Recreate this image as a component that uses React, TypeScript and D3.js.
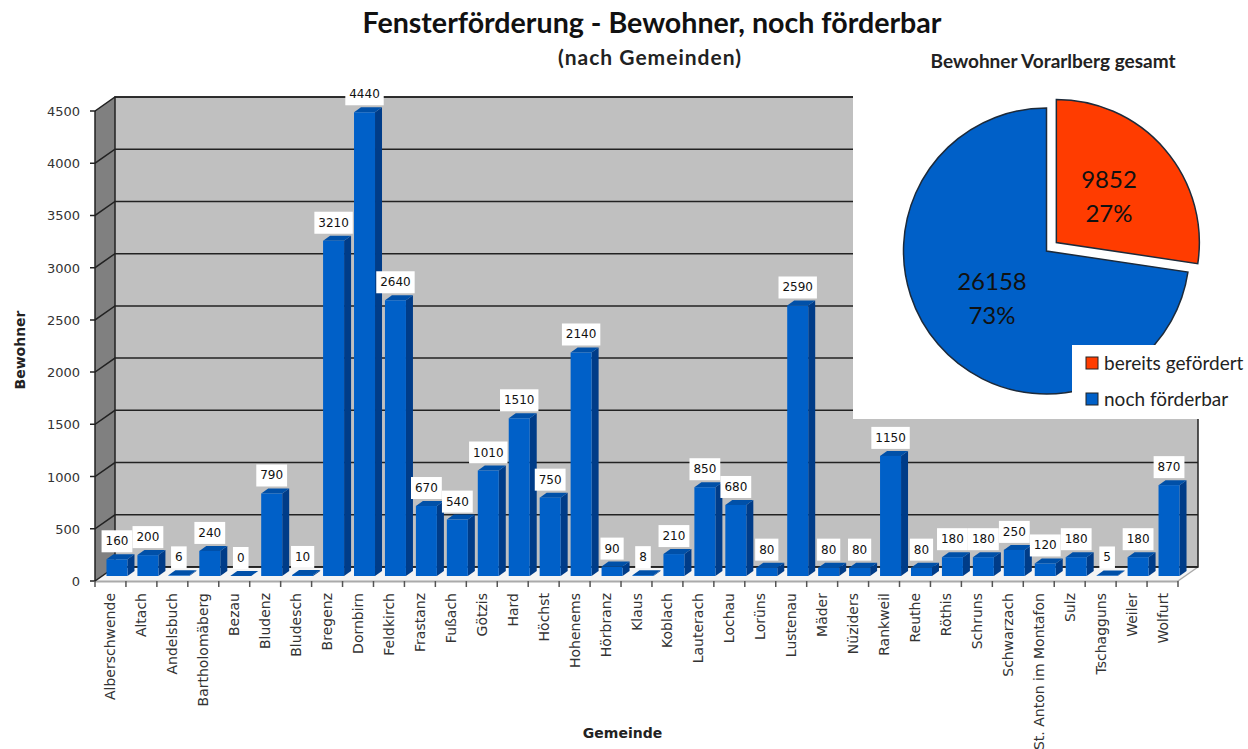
import React from "react";
import * as d3 from "d3";

const gemeinden = [
  "Alberschwende", "Altach", "Andelsbuch", "Bartholomäberg", "Bezau", "Bludenz", "Bludesch",
  "Bregenz", "Dornbirn", "Feldkirch", "Frastanz", "Fußach", "Götzis", "Hard", "Höchst",
  "Hohenems", "Hörbranz", "Klaus", "Koblach", "Lauterach", "Lochau", "Lorüns", "Lustenau",
  "Mäder", "Nüziders", "Rankweil", "Reuthe", "Röthis", "Schruns", "Schwarzach",
  "St. Anton im Montafon", "Sulz", "Tschagguns", "Weiler", "Wolfurt",
];
const bewohner = [
  160, 200, 6, 240, 0, 790, 10, 3210, 4440, 2640, 670, 540, 1010, 1510, 750, 2140, 90, 8, 210,
  850, 680, 80, 2590, 80, 80, 1150, 80, 180, 180, 250, 120, 180, 5, 180, 870,
];
const yTicks = [0, 500, 1000, 1500, 2000, 2500, 3000, 3500, 4000, 4500];

const pieLabels = ["bereits gefördert", "noch förderbar"];
const pieValues = [9852, 26158];
const pieColors = ["#ff3c00", "#0060c8"];

const BODY = "'DejaVu Sans', sans-serif";
const HEAD = "Lato, sans-serif";

export default function App() {
  // front plane of the 3d box
  const x0 = 95;
  const x1 = 1178;
  const depthX = 20;
  const depthY = -14;

  const x = d3.scaleBand<string>().domain(gemeinden).range([x0, x1]);
  const y = d3.scaleLinear().domain([0, 4500]).range([581, 111]);

  const barW = 21;
  const barDx = 7;
  const barDy = -5;

  const pieGen = d3.pie<number>().sort(null);
  const arcGen = d3.arc<d3.PieArcDatum<number>>().innerRadius(0).outerRadius(143);
  const slices = pieGen(pieValues);
  const total = d3.sum(pieValues);
  const pct = d3.format(".0%");
  const pieX = 1046.5;
  const pieY = 251;

  const labelPos = [
    { x: 1109, y: 180 },
    { x: 992, y: 282 },
  ];

  return (
    <svg
      width={1248}
      height={749}
      style={{ position: "absolute", left: 0, top: 0, display: "block", background: "#fff" }}
    >
      {/* walls and floor */}
      <polygon
        points={`${x0},${y(0)} ${x0 + depthX},${y(0) + depthY} ${x0 + depthX},${y(4500) + depthY} ${x0},${y(4500)}`}
        fill="#808080"
      />
      <rect
        x={x0 + depthX}
        y={y(4500) + depthY}
        width={x1 - x0}
        height={y(0) - y(4500)}
        fill="#c0c0c0"
        stroke="#222"
        strokeWidth={1.5}
      />
      <polygon
        points={`${x0},${y(0)} ${x0 + depthX},${y(0) + depthY} ${x1 + depthX},${y(0) + depthY} ${x1},${y(0)}`}
        fill="#f4f4f4"
      />
      <line x1={x0} x2={x1} y1={y(0) + 0.5} y2={y(0) + 0.5} stroke="#aaa" strokeWidth={2} />
      <line x1={x1} x2={x1 + depthX} y1={y(0)} y2={y(0) + depthY} stroke="#aaa" strokeWidth={1.5} />
      <line x1={x0 + depthX} x2={x1 + depthX} y1={y(0) + depthY} y2={y(0) + depthY} stroke="#222" strokeWidth={1.5} />

      {/* grid and y axis */}
      {yTicks.map((t) => (
        <g key={t}>
          <polyline
            points={`${x0 - 5},${y(t)} ${x0},${y(t)} ${x0 + depthX},${y(t) + depthY} ${x1 + depthX},${y(t) + depthY}`}
            fill="none"
            stroke="#222"
            strokeWidth={1.5}
          />
          <text x={80} y={y(t) + 5} textAnchor="end" fontFamily={BODY} fontSize={13} fill="#333">
            {t}
          </text>
        </g>
      ))}
      <line x1={x0} x2={x0} y1={y(4500)} y2={y(0)} stroke="#222" strokeWidth={1.5} />

      {/* x ticks */}
      {gemeinden.map((g) => (
        <line key={g} x1={x(g)!} x2={x(g)!} y1={y(0)} y2={y(0) + 6} stroke="#555" strokeWidth={1.5} />
      ))}
      <line x1={x1} x2={x1} y1={y(0)} y2={y(0) + 6} stroke="#555" strokeWidth={1.5} />

      {/* bars */}
      {gemeinden.map((g, i) => {
        const left = x(g)! + (x.bandwidth() - barW) / 2 + 6.5;
        const base = y(0) - 5;
        const top = base - (y(0) - y(bewohner[i]));
        return (
          <g key={g}>
            <polygon
              points={`${left + barW},${base} ${left + barW + barDx},${base + barDy} ${left + barW + barDx},${top + barDy} ${left + barW},${top}`}
              fill="#003c88"
            />
            <polygon
              points={`${left},${top} ${left + barDx},${top + barDy} ${left + barW + barDx},${top + barDy} ${left + barW},${top}`}
              fill="#0050a8"
            />
            <rect x={left} y={top} width={barW} height={base - top} fill="#0060c8" />
          </g>
        );
      })}

      {/* data labels */}
      {gemeinden.map((g, i) => {
        const text = String(bewohner[i]);
        const w = text.length * 7.6 + 8;
        const cx = x(g)! + x.bandwidth() / 2 + 6.5;
        const cy = y(0) - 5 - (y(0) - y(bewohner[i])) - 18;
        return (
          <g key={g}>
            <rect x={cx - w / 2} y={cy - 11} width={w} height={22} fill="#fff" />
            <text x={cx} y={cy + 4} textAnchor="middle" fontFamily={BODY} fontSize={12} fill="#111">
              {text}
            </text>
          </g>
        );
      })}

      {/* category labels */}
      {gemeinden.map((g) => (
        <text
          key={g}
          transform={`translate(${x(g)! + x.bandwidth() / 2 + 5},593) rotate(-90)`}
          textAnchor="end"
          fontFamily={BODY}
          fontSize={14}
          fill="#333"
        >
          {g}
        </text>
      ))}

      {/* axis titles */}
      <text
        transform="translate(25,350) rotate(-90)"
        textAnchor="middle"
        fontFamily={BODY}
        fontWeight={700}
        fontSize={14}
        fill="#222"
      >
        Bewohner
      </text>
      <text x={622.5} y={738} textAnchor="middle" fontFamily={BODY} fontWeight={700} fontSize={14} fill="#222">
        Gemeinde
      </text>

      {/* pie panel */}
      <rect x={853} y={0} width={395} height={419} fill="#fff" />
      <text x={1053} y={68} textAnchor="middle" fontFamily={HEAD} fontWeight={700} fontSize={19} fill="#222">
        Bewohner Vorarlberg gesamt
      </text>
      {slices.map((s, i) => {
        const mid = (s.startAngle + s.endAngle) / 2;
        const off = i === 0 ? 13 : 0;
        return (
          <path
            key={pieLabels[i]}
            transform={`translate(${pieX + Math.sin(mid) * off},${pieY - Math.cos(mid) * off})`}
            d={arcGen(s)!}
            fill={pieColors[i]}
            stroke="#1c2a3a"
            strokeWidth={1.5}
          />
        );
      })}
      {pieValues.map((v, i) => (
        <g key={v} fontFamily={HEAD} fontSize={24} fill="#111" textAnchor="middle">
          <text x={labelPos[i].x} y={labelPos[i].y + 8}>{v}</text>
          <text x={labelPos[i].x} y={labelPos[i].y + 42}>{pct(v / total)}</text>
        </g>
      ))}

      {/* pie legend */}
      <rect x={1072} y={345} width={176} height={74} fill="#fff" />
      {pieLabels.map((l, i) => (
        <g key={l}>
          <rect x={1086} y={357 + i * 36} width={12} height={12} fill={pieColors[i]} stroke="#222" strokeWidth={1} />
          <text x={1104} y={370 + i * 36} fontFamily={HEAD} fontSize={19} fill="#222">
            {l}
          </text>
        </g>
      ))}

      {/* main titles sit above the panel */}
      <text x={652} y={33} textAnchor="middle" fontFamily={HEAD} fontWeight={700} fontSize={28.6} fill="#111">
        Fensterförderung - Bewohner, noch förderbar
      </text>
      <text x={650} y={65} textAnchor="middle" fontFamily={HEAD} fontWeight={700} fontSize={21} letterSpacing={1} fill="#222">
        (nach Gemeinden)
      </text>
    </svg>
  );
}
